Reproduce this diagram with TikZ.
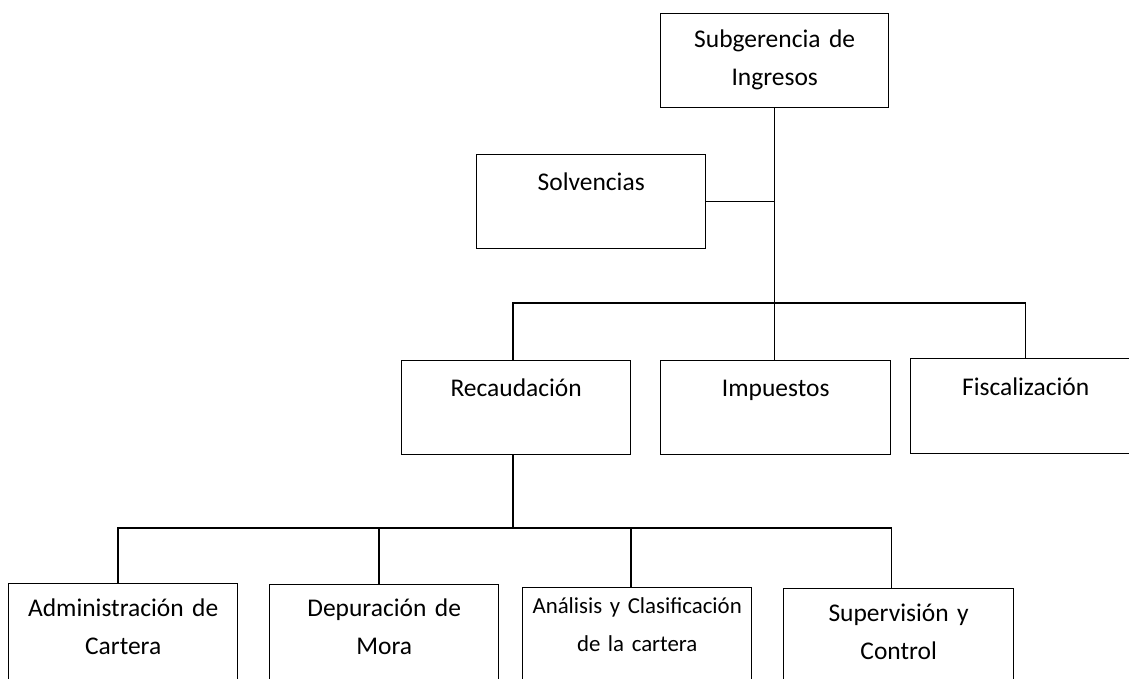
\documentclass[tikz,border=0pt]{standalone}
\usepackage{fontspec}
\setmainfont{Carlito}
\tikzset{
	unit/.style ={rectangle, draw=black, line width=0.8pt, inner sep=0pt, anchor=north west, align=center, text width=4.58cm, font=\fontsize{14.5}{21.5}\selectfont},
	upper/.style={text height=0.72cm, text depth=1.16cm},
	lower/.style={text height=0.66cm, text depth=1.7cm},
	link/.style ={line width=0.8pt},
}
\begin{document}
\begin{tikzpicture}[x=0.02cm, y=-0.02cm]
	\useasboundingbox (0,0) rectangle (1129,679);
	\clip (0,0) rectangle (1129,679);
	% head and staff unit
	\node[unit, text width=4.56cm, text height=0.68cm, text depth=1.2cm] (sub) at (660,13) {Subgerencia de\\ Ingresos};
	\node[unit, upper] (solv) at (476,154) {Solvencias};
	% departments
	\node[unit, upper] (rec) at (401,360) {Recaudación};
	\node[unit, upper, text width=4.6cm] (imp) at (660,360) {Impuestos};
	\node[unit, upper, text width=4.6cm, text height=0.74cm] (fis) at (910,358) {Fiscalización};
	% sections of Recaudacion
	\node[unit, lower] (adm) at (8,583) {Administración de\\ Cartera};
	\node[unit, lower, text height=0.64cm] (dep) at (269,584) {Depuración de\\ Mora};
	\node[unit, lower, text height=0.52cm, font=\fontsize{13}{21.5}\selectfont] (ana) at (522,587) {Análisis y Clasificación\\ de la cartera};
	\node[unit, lower, text width=4.6cm] (sup) at (783,588) {Supervisión y\\ Control};
	\coordinate (topbar) at (774,303);
	\coordinate (lowbar) at (513,528);
	\draw[link] (sub.south) -- (sub.south |- imp.north);
	\draw[link] (solv.east) -- (solv.east -| sub.south);
	\draw[link] (rec.north -| lowbar) |- (topbar) -| (fis.north);
	\draw[link] (rec.south -| lowbar) -- (lowbar);
	\draw[link] ([xshift=-0.1cm]adm.north) |- (lowbar) -| ([xshift=-0.14cm]sup.north);
	\draw[link] ([xshift=-0.1cm]dep.north) -- ([xshift=-0.1cm]dep.north |- lowbar);
	\draw[link] ([xshift=-0.12cm]ana.north) -- ([xshift=-0.12cm]ana.north |- lowbar);
\end{tikzpicture}
\end{document}
